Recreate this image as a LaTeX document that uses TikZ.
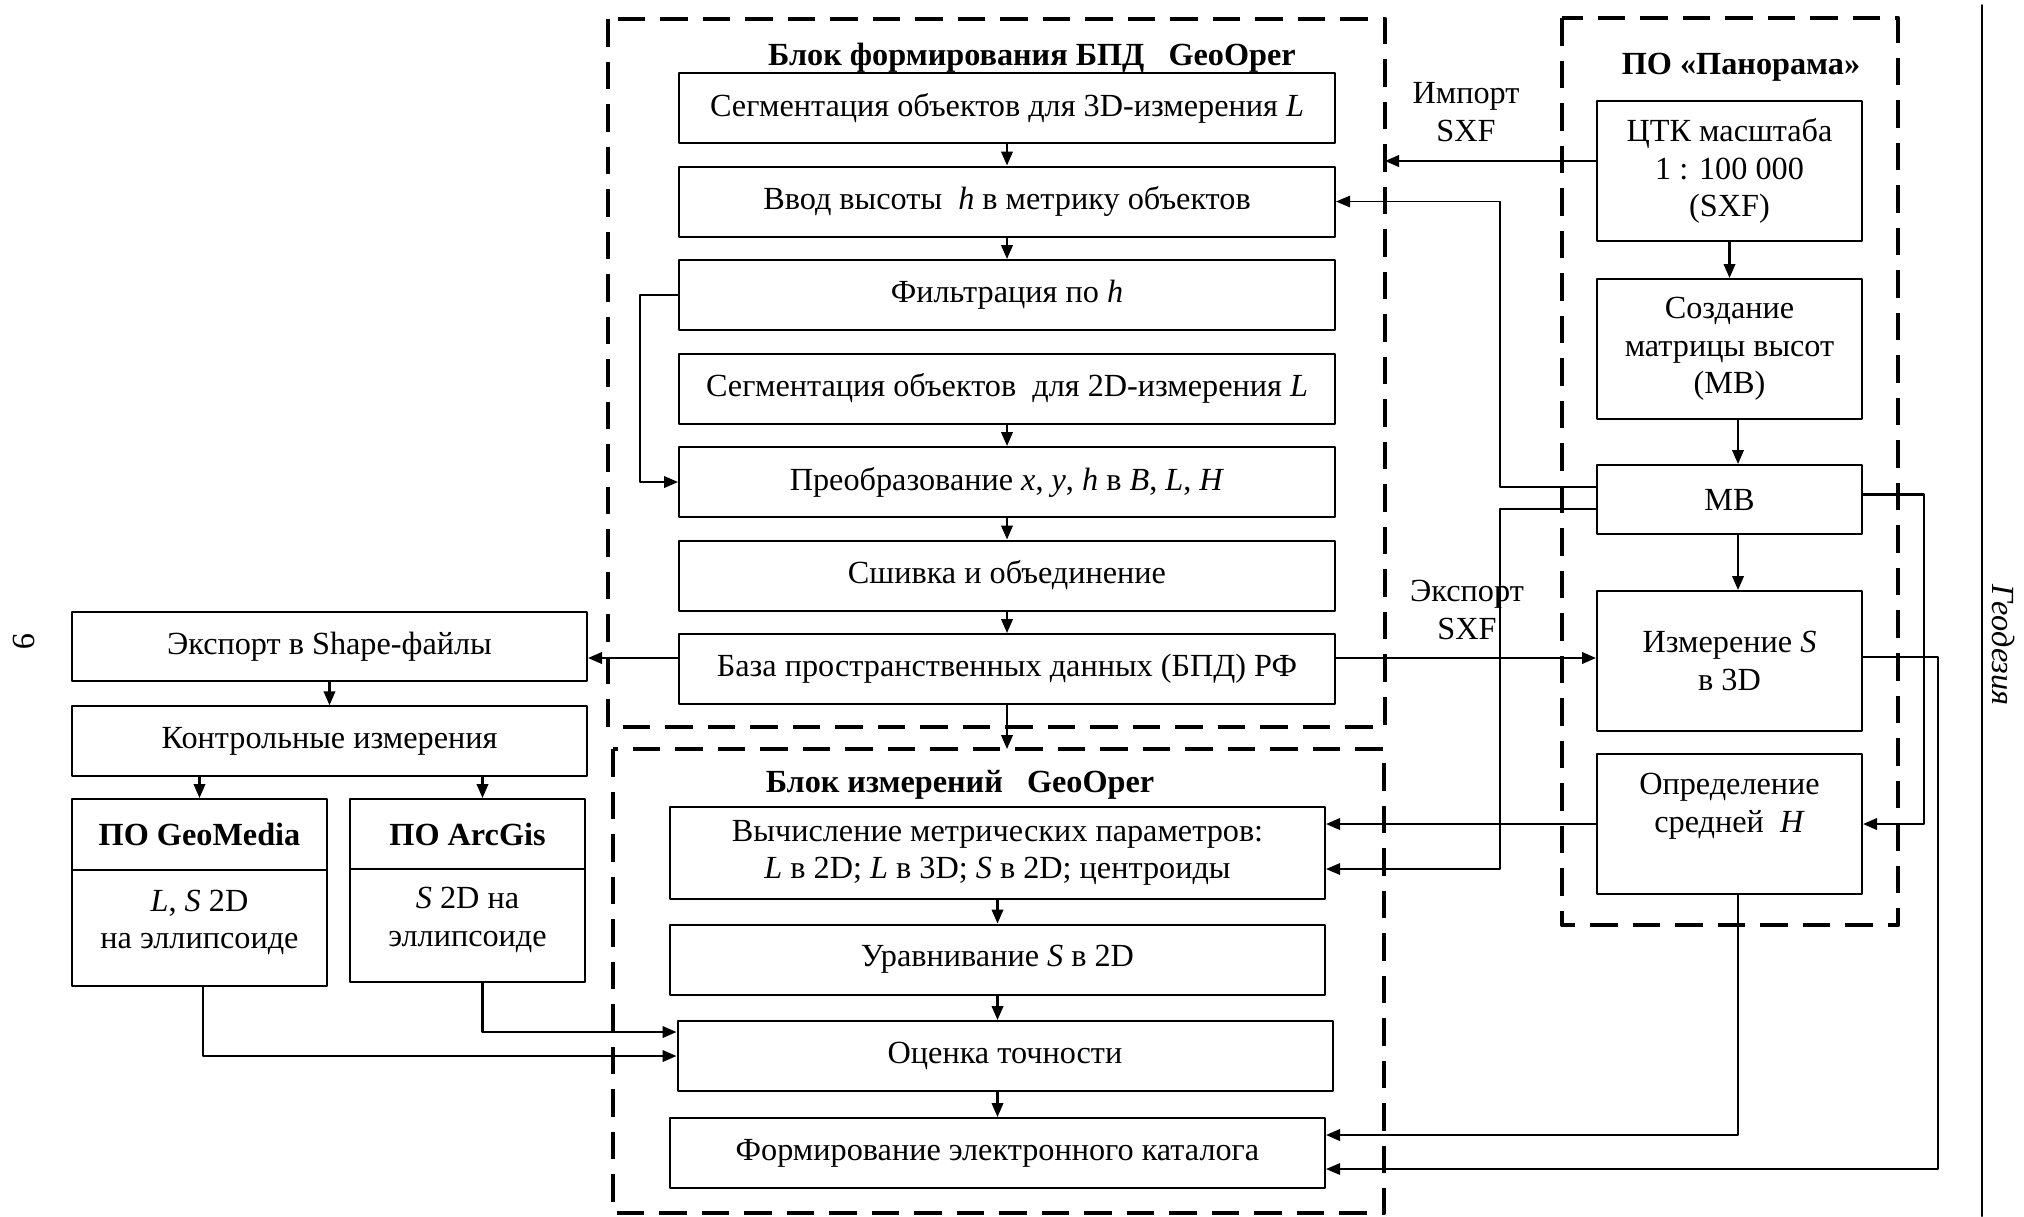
\documentclass[tikz,border=0pt]{standalone}
\usepackage{fontspec}
\setmainfont{Liberation Serif}
\usepackage{tikz}
\usetikzlibrary{arrows}
\usetikzlibrary{arrows.meta,calc}

\begin{document}
\begin{tikzpicture}[line cap=round,line join=round,>={Triangle[length=5.6pt,width=4.6pt]},x=0.4pt,y=-0.4pt,
                proc/.style={draw,line width=0.8pt,rectangle,inner sep=1pt,align=center,font=\fontsize{12.9}{15}\selectfont},
                wide/.style={proc,minimum width=262.4pt,minimum height=28pt},
                pano/.style={proc,minimum width=106pt,minimum height=56pt},
                grp/.style={line width=1.9pt,dash pattern=on 11pt off 6pt,line cap=butt},
                lnk/.style={->,line width=0.9pt},
                thinlnk/.style={->,line width=0.55pt},
                ttl/.style={font=\fontsize{12.9}{15}\selectfont\bfseries,inner sep=1pt},
                lbl/.style={align=center,font=\fontsize{12.9}{15}\selectfont,inner sep=1pt}]
                \useasboundingbox (0,0) rectangle (2024,1216);
                \coordinate (upTL) at (608,19);
                \coordinate (upBR) at (1385,727);
                \coordinate (loTL) at (613,749);
                \coordinate (loBR) at (1384,1213);
                \coordinate (pnTL) at (1562,18);
                \coordinate (pnBR) at (1898,925);
                \coordinate (busF) at (640,0);
                \coordinate (busL) at (1500,0);
                \coordinate (busR) at (1924,0);
                \coordinate (busRR) at (1938,0);
                \draw [grp] (upTL) rectangle (upBR);
                \draw [grp] (loTL) rectangle (loBR);
                \draw [grp] (pnTL) rectangle (pnBR);
                \draw [line width=0.8pt] (1982,5)-- (1982,1216);

                \node[ttl] (ttlBpd) at (1032,58) {Блок формирования БПД\ \ \ GeoOper};
                \node[ttl] (ttlIzm) at (960,785) {Блок измерений\ \ \ GeoOper};
                \node[ttl] (ttlPan) at (1741,67) {ПО «Панорама»};

                \node[wide] (seg3) at (1007,108) {Сегментация объектов для 3D-измерения \textit{L}};
                \node[wide] (vvod) at (1007,201.5) {Ввод высоты\ \ \textit{h} в метрику объектов};
                \node[wide] (filt) at (1007,295) {Фильтрация по \textit{h}};
                \node[wide] (seg2) at (1007,388.5) {Сегментация объектов\ \ для 2D-измерения \textit{L}};
                \node[wide] (preob) at (1007,482) {Преобразование \textit{x}, \textit{y}, \textit{h} в \textit{B}, \textit{L}, \textit{H}};
                \node[wide] (shiv) at (1007,575.5) {Сшивка и объединение};
                \node[wide] (bpd) at (1007,669) {База пространственных данных (БПД) РФ};

                \node[pano] (ctk) at (1729.5,171) {ЦТК масштаба\\1 : 100 000\\(SXF)};
                \node[pano] (sozd) at (1729.5,349) {Создание\\матрицы высот\\(МВ)};
                \node[pano,minimum height=27.6pt] (mv) at (1729.5,499.5) {МВ};
                \node[pano] (izm) at (1729.5,661) {Измерение \textit{S}\\в 3D};
                \node[pano,text depth=17pt] (opr) at (1729.5,824) {Определение\\средней\ \ \textit{H}};

                \node[wide,minimum width=262pt,minimum height=36.8pt] (vych) at (997.5,853) {Вычисление метрических параметров:\\\textit{L} в 2D; \textit{L} в 3D; \textit{S} в 2D; центроиды};
                \node[wide,minimum width=262pt] (urav) at (997.5,959.5) {Уравнивание \textit{S} в 2D};
                \node[wide,minimum width=262pt] (ocen) at (1005,1056) {Оценка точности};
                \node[wide,minimum width=262pt] (form) at (997.5,1153) {Формирование электронного каталога};

                \node[proc,minimum width=206pt,minimum height=27.8pt] (exp) at (329.5,646.5) {Экспорт в Shape-файлы};
                \node[proc,minimum width=206pt,minimum height=27.8pt] (kontr) at (329.5,741) {Контрольные измерения};
                \node[proc,minimum width=102pt,minimum height=28.4pt,font=\fontsize{12.9}{15}\selectfont\bfseries] (gmh) at (199.5,834.5) {ПО GeoMedia};
                \node[proc,minimum width=102pt,minimum height=46.4pt,text depth=7pt] (gmb) at (199.5,928) {\textit{L}, \textit{S} 2D\\на эллипсоиде};
                \node[proc,minimum width=94pt,minimum height=28pt,font=\fontsize{12.9}{15}\selectfont\bfseries] (agh) at (467.5,834) {ПО ArcGis};
                \node[proc,minimum width=94pt,minimum height=45.2pt,text depth=7pt] (agb) at (467.5,925.5) {\textit{S} 2D на\\эллипсоиде};

                \node[lbl] (imp) at (1466,112) {Импорт\\SXF};
                \node[lbl] (expl) at (1467,610) {Экспорт\\SXF};
                \node[lbl,rotate=-90,font=\fontsize{12.9}{15}\selectfont\itshape] (geo) at (2003,645) {Геодезия};
                \node[lbl,rotate=-90] (pg) at (24,642) {9};

                \coordinate (vychIn) at ([yshift=-6.4pt]vych.east);
                \coordinate (formInA) at ([yshift=7.2pt]form.east);
                \coordinate (formInB) at ([yshift=-6.4pt]form.east);
                \coordinate (ocenIn) at ([yshift=9.6pt]ocen.west);

                \draw [lnk] (seg3.south)-- (vvod.north);
                \draw [lnk] (vvod.south)-- (filt.north);
                \draw [lnk] (seg2.south)-- (preob.north);
                \draw [lnk] (preob.south)-- (shiv.north);
                \draw [lnk] (shiv.south)-- (bpd.north);
                \draw [lnk] (filt.west)-- (filt.west -| busF) |- (preob.west);
                \draw [lnk] (bpd.south)-- (bpd.south |- loTL);
                \draw [lnk] ([yshift=4.4pt]bpd.west)-- ([yshift=4.4pt]bpd.west -| exp.east);
                \draw [lnk] ([yshift=4.4pt]bpd.east)-- ([yshift=4.4pt]bpd.east -| izm.west);
                \draw [lnk] ([yshift=4pt]ctk.west)-- ([yshift=4pt]ctk.west -| upBR);

                \draw [lnk] (ctk.south)-- (sozd.north);
                \draw [lnk] ([xshift=3.4pt]sozd.south)-- ([xshift=3.4pt]mv.north);
                \draw [lnk] ([xshift=3.4pt]mv.south)-- ([xshift=3.4pt]izm.north);
                \draw [thinlnk] ([yshift=5pt]mv.west) -| (busL |- vvod.east)-- (vvod.east);
                \draw [thinlnk] ([yshift=-3.8pt]mv.west) -| (busL |- vychIn)-- (vychIn);
                \draw [lnk] ([yshift=2pt]mv.east) -| (busR |- opr.east)-- (opr.east);
                \draw [lnk] (opr.west)-- (opr.west -| vych.east);
                \draw [thinlnk] ([yshift=1.6pt]izm.east) -| (busRR |- formInB)-- (formInB);
                \draw [lnk] ([xshift=3.4pt]opr.south) |- (formInA);

                \draw [lnk] (vych.south)-- (vych.south |- urav.north);
                \draw [lnk] (urav.south)-- (urav.south |- ocen.north);
                \draw [lnk] (form.north |- ocen.south)-- (form.north);

                \draw [lnk] (exp.south)-- (kontr.north);
                \draw [lnk] (kontr.south -| gmh.north)-- (gmh.north);
                \draw [lnk] ([xshift=6pt]agh.north |- kontr.south)-- ([xshift=6pt]agh.north);
                \draw [lnk] ([xshift=6pt]agb.south) |- (ocenIn);
                \draw [lnk] ([xshift=1.4pt]gmb.south) |- (ocen.west);
            \end{tikzpicture}
\end{document}
